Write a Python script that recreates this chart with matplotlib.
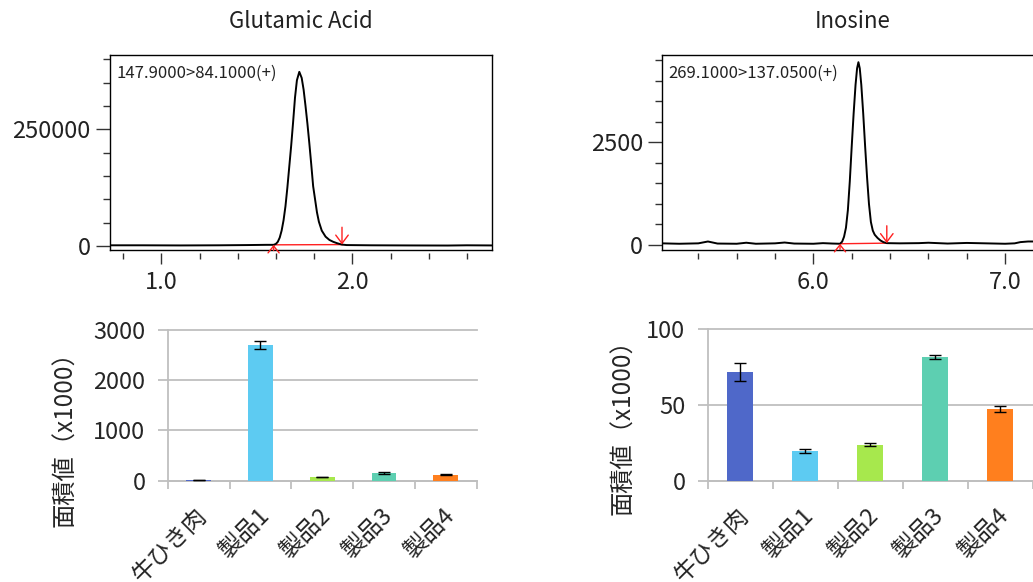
import matplotlib
matplotlib.use('Agg')
import matplotlib.pyplot as plt
import matplotlib.transforms as mtransforms
from matplotlib.ticker import MultipleLocator
import numpy as np

plt.rcParams['font.family'] = ['Noto Sans CJK JP', 'DejaVu Sans']

# ---------------- data ----------------
# Chromatogram of Glutamic Acid (time [min], intensity)
glu_time = [0.73, 0.90, 1.10, 1.30, 1.45, 1.55, 1.588, 1.600, 1.610, 1.620, 1.630,
            1.640, 1.650, 1.660, 1.670, 1.680, 1.690, 1.700, 1.710, 1.7225, 1.735,
            1.745, 1.755, 1.765, 1.775, 1.785, 1.795, 1.805, 1.815, 1.825, 1.840,
            1.860, 1.880, 1.900, 1.920, 1.946, 1.970, 2.10, 2.30, 2.50, 2.60, 2.73]
glu_intensity = [1500, 1500, 1200, 1500, 2000, 2500, 2500, 4500, 9000, 18000, 33000,
                 55000, 85000, 125000, 170000, 215000, 265000, 318000, 355000, 373000, 360000,
                 335000, 300000, 262000, 220000, 175000, 128000, 100000, 72000, 52000, 33000,
                 20000, 13000, 9000, 6000, 3000, 2000, 1500, 1200, 1000, 1500, 1200]
glu_transition = '147.9000>84.1000(+)'
glu_peak_start = (1.588, 2500)
glu_peak_end = (1.946, 3000)

# Chromatogram of Inosine
ino_time = [5.21, 5.30, 5.40, 5.45, 5.50, 5.60, 5.65, 5.70, 5.80, 5.85, 5.90, 6.00,
            6.05, 6.10, 6.139, 6.150, 6.160, 6.170, 6.180, 6.190, 6.200, 6.210, 6.220,
            6.228, 6.235, 6.242, 6.250, 6.260, 6.270, 6.280, 6.290, 6.300, 6.310, 6.320,
            6.335, 6.350, 6.365, 6.383, 6.45, 6.55, 6.60, 6.70, 6.80, 6.90, 7.00, 7.05,
            7.08, 7.12, 7.20]
ino_intensity = [40, 30, 40, 85, 35, 30, 55, 30, 40, 60, 35, 30,
                 45, 35, 30, 80, 200, 420, 850, 1550, 2400, 3200, 3900,
                 4300, 4450, 4300, 3900, 3200, 2400, 1650, 1000, 560, 350, 250,
                 170, 110, 70, 45, 40, 45, 55, 35, 50, 40, 30, 40,
                 70, 85, 85]
ino_transition = '269.1000>137.0500(+)'
ino_peak_start = (6.139, 30)
ino_peak_end = (6.383, 45)

# Bar charts: area values (x1000)
categories = ['牛ひき肉', '製品1', '製品2', '製品3', '製品4']
glu_area = [13, 2700, 73, 153, 119]
glu_err = [5, 83, 8, 18, 10]
ino_area = [71.8, 19.6, 23.6, 81.7, 47.4]
ino_err = [5.7, 1.5, 1.0, 1.0, 2.2]
bar_colors = ['#4F68C9', '#5DCBF2', '#A7E84D', '#5DCFB1', '#FF7F1E']

titles = ['Glutamic Acid', 'Inosine']
ylabel = '面積値（x1000）'

# ---------------- figure ----------------
W, H = 1033, 582
fig = plt.figure(figsize=(W / 100, H / 100), dpi=100)


def rect_px(left, top, right, bottom):
    return [left / W, 1 - bottom / H, (right - left) / W, (bottom - top) / H]


def chromatogram(rect, t, I, xlim, ylim, xticks, ystep, yticks, transition,
                 pstart, pend, title, title_x, height_px):
    ax = fig.add_axes(rect)
    ax.plot(t, I, color='black', lw=1.4, zorder=3)
    ax.set_xlim(xlim)
    ax.set_ylim(ylim)
    for s in ax.spines.values():
        s.set_color('black')
        s.set_linewidth(1.0)
    ax.set_yticks(yticks)
    ax.set_yticklabels([str(v) for v in yticks])
    ax.yaxis.set_minor_locator(MultipleLocator(ystep))
    ax.tick_params(axis='y', which='major', length=10, width=1, pad=4,
                   labelsize=17, labelcolor='#222222', color='#333333')
    ax.tick_params(axis='y', which='minor', length=5, width=1, color='#333333')
    ax.tick_params(axis='x', which='both', bottom=False, labelbottom=False)
    sec = ax.secondary_xaxis(-3.0 / height_px)
    for s in sec.spines.values():
        s.set_visible(False)
    sec.set_xticks(xticks)
    sec.set_xticklabels(['%.1f' % v for v in xticks])
    sec.xaxis.set_minor_locator(MultipleLocator(0.2))
    sec.tick_params(axis='x', which='major', length=8, width=1, pad=5,
                    labelsize=17, labelcolor='#222222', color='#333333')
    sec.tick_params(axis='x', which='minor', length=4, width=1, color='#333333')
    # integration baseline and markers
    ax.plot([pstart[0], pend[0]], [pstart[1], pend[1]], color='#FF2020', lw=1.0, zorder=2)
    ax.annotate('', xy=pend, xytext=(0, 12.5), textcoords='offset points',
                arrowprops=dict(arrowstyle='->,head_length=0.6,head_width=0.45',
                                color='#FF2020', lw=1.0, shrinkA=0, shrinkB=0))
    ax.annotate('', xy=pstart, xytext=(0, -4), textcoords='offset points',
                arrowprops=dict(arrowstyle='->,head_length=0.5,head_width=0.4',
                                color='#FF2020', lw=1.0, shrinkA=0, shrinkB=0),
                annotation_clip=False)
    ax.text(0.017, 0.905, transition, transform=ax.transAxes, ha='left', va='center',
            fontsize=12, color='#222222')
    fig.text(title_x / W, 1 - 22 / H, title, ha='center', va='center',
             fontsize=16, color='#222222')
    return ax


chromatogram(rect_px(110, 55, 491.7, 250), glu_time, glu_intensity,
             (0.7314, 2.7298), (-8570, 409100), [1.0, 2.0], 50000, [0, 250000],
             glu_transition, glu_peak_start, glu_peak_end, titles[0], 300.8, 195)
chromatogram(rect_px(662.3, 55, 1044, 250), ino_time, ino_intensity,
             (5.212, 7.203), (-122, 4625), [6.0, 7.0], 500, [0, 2500],
             ino_transition, ino_peak_start, ino_peak_end, titles[1], 853, 195)

GRID = '#BFBFBF'
label_shift = mtransforms.ScaledTranslation(5 / 100, 0, fig.dpi_scale_trans)


def barchart(rect, values, errs, ymax, ystep):
    ax = fig.add_axes(rect)
    x = np.arange(len(categories))
    ax.bar(x, values, width=0.4, color=bar_colors, zorder=3)
    ax.errorbar(x, values, yerr=errs, fmt='none', ecolor='black', elinewidth=1.0,
                capsize=4.3, capthick=1.0, zorder=4)
    ax.set_xlim(-0.5, len(categories) - 0.5)
    ax.set_ylim(0, ymax)
    yt = np.arange(0, ymax + ystep / 2, ystep)
    ax.set_yticks(yt)
    ax.set_yticklabels(['%d' % v for v in yt])
    ax.yaxis.grid(True, color=GRID, lw=1.3)
    for gl in ax.get_ygridlines():
        gl.set_clip_on(False)
    ax.set_axisbelow(True)
    for side in ['top', 'right']:
        ax.spines[side].set_visible(False)
    for side in ['left', 'bottom']:
        ax.spines[side].set_color(GRID)
        ax.spines[side].set_linewidth(1.3)
    ax.set_xticks(x)
    ax.set_xticklabels(categories, rotation=45, ha='right', va='center',
                       rotation_mode='anchor')
    ax.set_xticks(np.arange(-0.5, len(categories), 1.0), minor=True)
    ax.tick_params(axis='x', which='major', length=0, pad=22.5, labelsize=17,
                   labelcolor='#262626')
    ax.tick_params(axis='x', which='minor', length=6, width=1.3, color=GRID)
    ax.tick_params(axis='y', which='major', length=7, width=1.3, color=GRID, pad=9,
                   labelsize=17, labelcolor='#262626')
    for lab in ax.get_xticklabels():
        lab.set_transform(lab.get_transform() + label_shift)
    return ax


barchart(rect_px(167.7, 330, 476.7, 480.7), glu_area, glu_err, 3000, 1000)
barchart(rect_px(707.7, 329.3, 1032.7, 480.7), ino_area, ino_err, 100, 50)

fig.text(65 / W, 1 - 433 / H, ylabel, rotation=90, ha='center', va='center',
         fontsize=17.5, color='#262626')
fig.text(623 / W, 1 - 421 / H, ylabel, rotation=90, ha='center', va='center',
         fontsize=17.5, color='#262626')

fig.savefig('out.png', dpi=100)
